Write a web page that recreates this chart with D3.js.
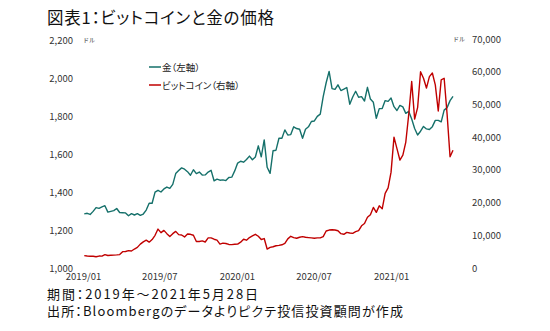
<!DOCTYPE html>
<html>
<head>
<meta charset="utf-8">
<script src="https://cdn.jsdelivr.net/npm/d3@7"></script>
<style>
    body { margin: 0; background: #fff; }
    svg { display: block; font-family: "Noto Sans CJK JP", sans-serif; }
    .palt { font-feature-settings: "palt"; }
</style>
</head>
<body>
<svg id="chart"></svg>
<script>
// weekly closes (Friday), 2019-01-04 .. 2021-05-28
const startDate = new Date(2019, 0, 4);
const endDate = new Date(2021, 4, 28);

// 金 (USD/oz, left axis)
const gold2019 = [1285, 1288, 1282, 1298, 1318, 1314, 1322, 1328, 1294, 1298,
    1302, 1313, 1292, 1291, 1290, 1275, 1286, 1279, 1286, 1277,
    1284, 1305, 1341, 1341, 1399, 1409, 1400, 1416, 1426, 1419,
    1440, 1497, 1513, 1527, 1520, 1507, 1488, 1517, 1497, 1505,
    1489, 1490, 1505, 1514, 1459, 1468, 1462, 1464, 1460, 1476,
    1478, 1511];
const gold2020 = [1552, 1562, 1557, 1571, 1589, 1570, 1584, 1643, 1585, 1674,
    1530, 1498, 1617, 1620, 1683, 1683, 1727, 1700, 1702, 1743,
    1734, 1730, 1683, 1730, 1743, 1771, 1774, 1798, 1810, 1902,
    1975, 2035, 1944, 1940, 1964, 1934, 1941, 1950, 1862, 1900,
    1930, 1899, 1902, 1879, 1951, 1889, 1872, 1788, 1839, 1839,
    1881, 1877];
const gold2021 = [1895, 1849, 1829, 1856, 1848, 1814, 1824, 1784, 1734, 1700,
    1720, 1745, 1732, 1729, 1744, 1777, 1777, 1769, 1831, 1844,
    1881, 1903];

// ビットコイン (USD, right axis)
const btc2019 = [3800, 3650, 3600, 3580, 3450, 3650, 3620, 4100, 3820, 3900,
    3950, 4000, 4100, 5000, 5050, 5300, 5200, 5800, 6300, 7300,
    8000, 8500, 7900, 8700, 10000, 11900, 10800, 11500, 10500, 9600,
    10500, 11200, 10200, 10100, 9500, 10400, 10300, 10000, 8100, 8100,
    8300, 7950, 9200, 9200, 8800, 8500, 7300, 7600, 7500, 7200,
    7150, 7250];
const btc2020 = [7300, 7900, 8800, 8500, 9300, 9800, 10300, 9700, 8700, 9000,
    5800, 6300, 6500, 6800, 6900, 7100, 7500, 8900, 9700, 9300,
    9100, 9400, 9600, 9400, 9300, 9200, 9100, 9200, 9200, 9600,
    11300, 11600, 11700, 11600, 11400, 10500, 10300, 10900, 10700, 10600,
    11100, 11400, 12900, 13600, 15500, 16300, 18500, 17000, 19000, 18100,
    22800, 24500];
const btc2021 = [29300, 40000, 36500, 33000, 34500, 38500, 47000, 57000, 45500, 49000,
    60000, 58000, 55000, 58500, 59600, 56000, 48000, 57500, 58000, 47000,
    34000, 36000];

const leftTicks = [1000, 1200, 1400, 1600, 1800, 2000, 2200];
const rightTicks = [0, 10000, 20000, 30000, 40000, 50000, 60000, 70000];
const xTickDates = [new Date(2019, 0, 1), new Date(2019, 6, 1), new Date(2020, 0, 1),
    new Date(2020, 6, 1), new Date(2021, 0, 1)];

const seriesNames = ["金（左軸）", "ビットコイン（右軸）"];
const goldColor = "#15706a";
const btcColor = "#c00000";

const width = 550;
const height = 331;

const svg = d3.select("#chart")
    .attr("width", width)
    .attr("height", height);

const weeks = d3.timeFriday.range(startDate, d3.timeDay.offset(endDate, 1));
const gold = gold2019.concat(gold2020, gold2021);
const btc = btc2019.concat(btc2020, btc2021);

const goldData = weeks.map((d, i) => ({ date: d, value: gold[i] }));
const btcData = weeks.map((d, i) => ({ date: d, value: btc[i] }));

// scales
const x = d3.scaleTime()
    .domain([new Date(2019, 0, 1), endDate])
    .range([83, 453]);

const yLeft = d3.scaleLinear()
    .domain([1000, 2200])
    .range([268, 40]);

const yRight = d3.scaleLinear()
    .domain([0, 70000])
    .range([268, 39]);

// title
svg.append("text")
    .attr("class", "palt")
    .attr("x", 47)
    .attr("y", 24)
    .attr("font-size", "16.5px")
    .attr("fill", "#111")
    .attr("textLength", 227)
    .attr("lengthAdjust", "spacing")
    .text("図表1：ビットコインと金の価格");

// left axis
const leftAxis = svg.append("g")
    .attr("transform", "translate(73,0)")
    .call(d3.axisLeft(yLeft).tickValues(leftTicks).tickSize(0).tickPadding(0).tickFormat(d3.format(",")));

// right axis
const rightAxis = svg.append("g")
    .attr("transform", "translate(472,0)")
    .call(d3.axisRight(yRight).tickValues(rightTicks).tickSize(0).tickPadding(0).tickFormat(d3.format(",")));

// x axis
const xAxis = svg.append("g")
    .attr("transform", "translate(0,268)")
    .call(d3.axisBottom(x).tickValues(xTickDates).tickSize(0).tickPadding(5).tickFormat(d3.timeFormat("%Y/%m")));

[leftAxis, rightAxis, xAxis].forEach(a => {
    a.select(".domain").remove();
    a.selectAll("text")
        .attr("font-family", "\"Noto Sans CJK JP\", sans-serif")
        .attr("font-size", "9.5px")
        .attr("fill", "#333");
});

// unit labels
svg.append("text")
    .attr("x", 83)
    .attr("y", 42)
    .attr("font-size", "6px")
    .attr("fill", "#333")
    .text("ドル");

svg.append("text")
    .attr("x", 453)
    .attr("y", 41)
    .attr("font-size", "6px")
    .attr("fill", "#333")
    .text("ドル");

// lines
const goldLine = d3.line()
    .x(d => x(d.date))
    .y(d => yLeft(d.value));

const btcLine = d3.line()
    .x(d => x(d.date))
    .y(d => yRight(d.value));

svg.append("path")
    .datum(goldData)
    .attr("fill", "none")
    .attr("stroke", goldColor)
    .attr("stroke-width", 1.4)
    .attr("stroke-linejoin", "round")
    .attr("d", goldLine);

svg.append("path")
    .datum(btcData)
    .attr("fill", "none")
    .attr("stroke", btcColor)
    .attr("stroke-width", 1.4)
    .attr("stroke-linejoin", "round")
    .attr("d", btcLine);

// legend
const legend = svg.append("g")
    .attr("transform", "translate(149,67)");

const legendItem = legend.selectAll(".legend-item")
    .data([goldColor, btcColor])
    .enter()
    .append("g")
    .attr("transform", (d, i) => `translate(0, ${i * 18})`);

legendItem.append("line")
    .attr("x1", 0)
    .attr("x2", 12)
    .attr("stroke", d => d)
    .attr("stroke-width", 1.5);

legendItem.append("text")
    .attr("class", "palt")
    .attr("x", 13)
    .attr("y", 3.5)
    .attr("font-size", "9.5px")
    .attr("fill", "#222")
    .text((d, i) => seriesNames[i]);

// footnotes
svg.append("text")
    .attr("class", "palt")
    .attr("x", 47)
    .attr("y", 299)
    .attr("font-size", "13px")
    .attr("fill", "#111")
    .attr("textLength", 211)
    .attr("lengthAdjust", "spacing")
    .text("期間：2019年～2021年5月28日");

svg.append("text")
    .attr("class", "palt")
    .attr("x", 47)
    .attr("y", 316)
    .attr("font-size", "13px")
    .attr("fill", "#111")
    .attr("textLength", 356)
    .attr("lengthAdjust", "spacing")
    .text("出所：Bloombergのデータよりピクテ投信投資顧問が作成");
</script>
</body>
</html>
